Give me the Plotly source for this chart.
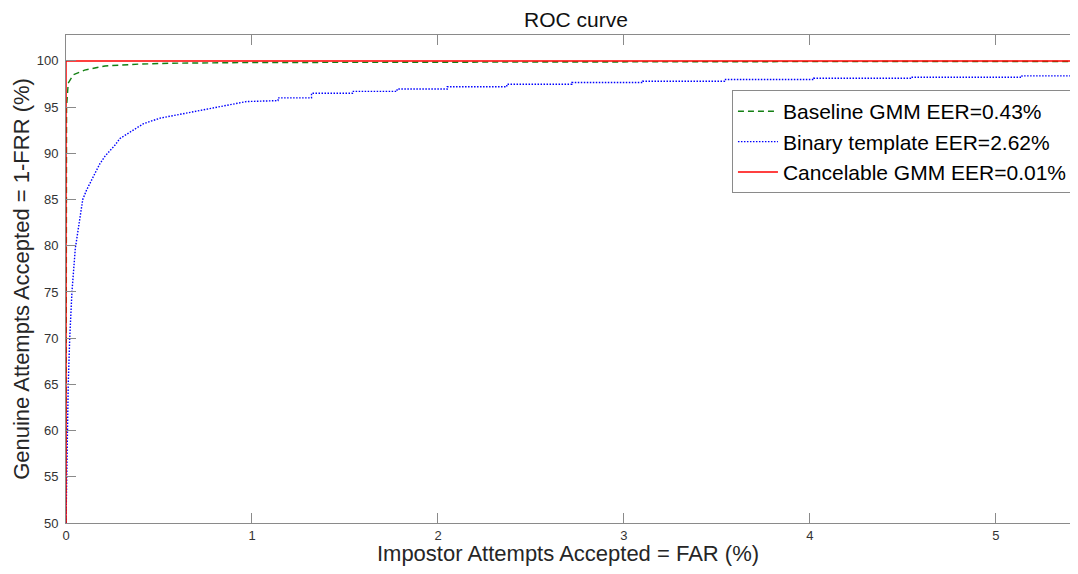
import plotly.graph_objects as go

# ---- data ----
baseline_far = [0.0, 0.0, 0.003, 0.012, 0.04, 0.10, 0.21, 0.39, 0.57, 1.0, 2.0, 3.0, 4.0, 5.6]
baseline_gar = [50.0, 92.0, 95.0, 97.6, 98.5, 99.0, 99.45, 99.65, 99.75, 99.82, 99.87, 99.9, 99.92, 99.94]

binary_far = [0.000, 0.003, 0.005, 0.012, 0.020, 0.032, 0.050, 0.060, 0.072, 0.090, 0.110,
              0.138, 0.160, 0.183, 0.210, 0.237, 0.260, 0.290, 0.330, 0.360, 0.416, 0.505,
              0.630, 0.810, 0.970, 1.14, 1.14, 1.32, 1.32, 1.54, 1.54, 1.78, 1.78, 2.05, 2.05,
              2.37, 2.37, 2.72, 2.72, 3.10, 3.10, 3.54, 3.54, 4.02, 4.02, 4.54, 4.54, 5.14, 5.14, 5.6]
binary_gar = [50.0, 55.0, 60.0, 65.0, 70.0, 75.0, 79.7, 81.0, 83.0, 85.0, 86.0,
              87.2, 88.0, 88.9, 89.7, 90.3, 90.8, 91.6, 92.1, 92.5, 93.2, 93.8,
              94.3, 95.0, 95.6, 95.7, 96.0, 96.0, 96.5, 96.5, 96.7, 96.7, 96.95, 96.95, 97.2,
              97.2, 97.47, 97.47, 97.66, 97.66, 97.8, 97.8, 97.98, 97.98, 98.12, 98.12, 98.23, 98.23, 98.38, 98.38]

cancel_far = [0.0, 0.0, 5.6]
cancel_gar = [49.0, 100.0, 100.0]

labels = ["Baseline GMM EER=0.43%", "Binary template EER=2.62%", "Cancelable GMM EER=0.01%"]
x_ticks = [0, 1, 2, 3, 4, 5]
y_ticks = [50, 55, 60, 65, 70, 75, 80, 85, 90, 95, 100]

FONT = "Liberation Sans, Arial, Helvetica, sans-serif"

fig = go.Figure()
fig.add_trace(go.Scatter(x=baseline_far, y=baseline_gar, mode="lines", name=labels[0],
                         line=dict(color="rgb(20,128,20)", width=1.4, dash="6px,4px")))
fig.add_trace(go.Scatter(x=binary_far, y=binary_gar, mode="lines", name=labels[1],
                         line=dict(color="rgb(0,0,255)", width=1.4, dash="1.5px,1.5px")))
fig.add_trace(go.Scatter(x=cancel_far, y=cancel_gar, mode="lines", name=labels[2],
                         line=dict(color="rgb(255,0,0)", width=1.5)))

axis_common = dict(
    showgrid=False, zeroline=False, showline=True, linecolor="#8a8a8a", linewidth=1,
    ticks="inside", ticklen=10, tickcolor="#8a8a8a", tickwidth=1,
    tickfont=dict(family=FONT, size=13, color="#333333"),
)

fig.update_layout(
    width=1062, height=558,
    margin=dict(l=58, r=0, t=27, b=43, autoexpand=False),
    paper_bgcolor="white", plot_bgcolor="white",
    font=dict(family=FONT, color="#262626"),
    title=dict(text="ROC curve", font=dict(family=FONT, size=21, color="#111111"),
               x=0.508, xref="paper", xanchor="center",
               y=1, yref="paper", yanchor="bottom", pad=dict(b=8)),
    xaxis=dict(range=[0, 5.398], tickvals=x_ticks, mirror="ticks",
               title=dict(text="Impostor Attempts Accepted = FAR (%)",
                          font=dict(family=FONT, size=22, color="#262626"), standoff=7),
               ticklabelstandoff=0,
               **axis_common),
    yaxis=dict(range=[50, 102.8], tickvals=y_ticks, mirror=False,
               title=dict(text="Genuine Attempts Accepted = 1-FRR (%)",
                          font=dict(family=FONT, size=22, color="#262626"), standoff=0),
               ticklabelstandoff=4,
               **axis_common),
    legend=dict(x=0.6633, y=0.887, xanchor="left", yanchor="top",
                bgcolor="white", bordercolor="#8a8a8a", borderwidth=1,
                font=dict(family=FONT, size=21, color="#000000"),
                itemwidth=40, tracegroupgap=0),
    showlegend=True,
)

fig.write_html("out.html")
